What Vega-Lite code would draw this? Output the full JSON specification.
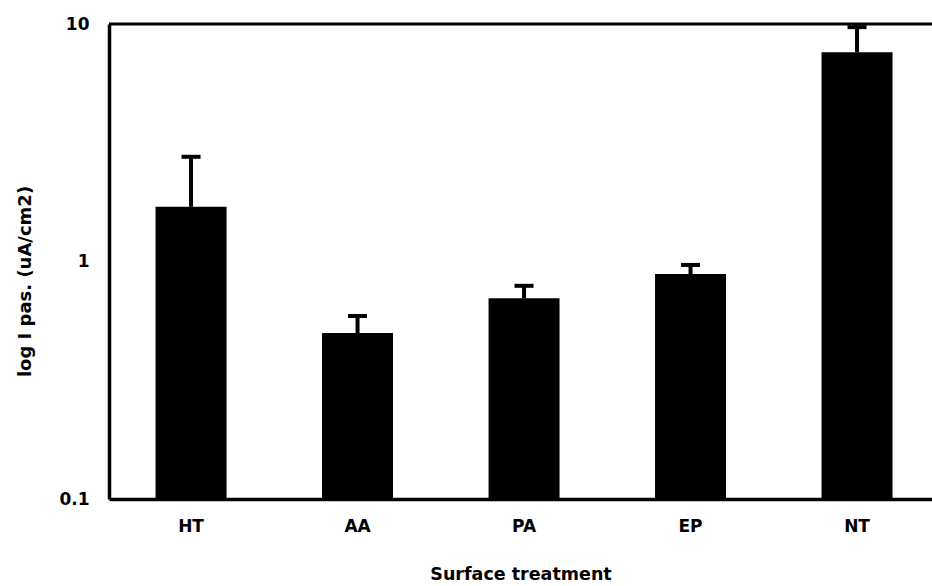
{
  "$schema": "https://vega.github.io/schema/vega-lite/v6.json",
  "width": 823,
  "height": 475,
  "autosize": "none",
  "padding": {"left": 109, "top": 24, "right": 0, "bottom": 87},
  "background": "white",
  "config": {"view": {"stroke": null}, "font": "DejaVu Sans"},
  "data": {"values": [
    {"treatment": "HT", "value": 1.70, "upper": 2.76},
    {"treatment": "AA", "value": 0.50, "upper": 0.59},
    {"treatment": "PA", "value": 0.70, "upper": 0.79},
    {"treatment": "EP", "value": 0.886, "upper": 0.967},
    {"treatment": "NT", "value": 7.6, "upper": 9.7}
  ]},
  "layer": [
    {
      "mark": {"type": "bar", "color": "black", "width": 71, "opacity": 1},
      "encoding": {
        "x": {
          "field": "treatment", "type": "nominal", "sort": null,
          "scale": {"paddingInner": 0.5, "paddingOuter": 0.2215, "align": 0.548},
          "axis": {
            "title": "Surface treatment", "labelAngle": 0, "ticks": false, "tickSize": 0,
            "labelPadding": 27, "labelBaseline": "middle",
            "domainColor": "black", "domainWidth": 3.5,
            "labelFont": "DejaVu Sans", "labelFontWeight": "bold", "labelFontSize": 17, "labelColor": "black",
            "titleFont": "DejaVu Sans", "titleFontWeight": "bold", "titleFontSize": 17.5, "titleColor": "black",
            "titleY": 75, "titleBaseline": "middle"
          }
        },
        "y": {
          "field": "value", "type": "quantitative",
          "scale": {"type": "log", "domain": [0.1, 10], "nice": false},
          "axis": {
            "title": "log I pas. (uA/cm2)", "values": [0.1, 1, 10], "format": "~g",
            "grid": false, "ticks": false, "tickSize": 0, "labelPadding": 20,
            "labelFlush": false,
            "domainColor": "black", "domainWidth": 3.5,
            "labelFont": "DejaVu Sans", "labelFontWeight": "bold", "labelFontSize": 17, "labelColor": "black",
            "titleFont": "DejaVu Sans", "titleFontWeight": "bold", "titleFontSize": 18, "titleColor": "black",
            "titleX": -84, "titleY": 257, "titleBaseline": "middle", "titleAlign": "center", "titleAngle": -90
          }
        },
        "y2": {"datum": 0.1}
      }
    },
    {
      "mark": {"type": "rule", "color": "black", "strokeWidth": 4, "opacity": 1},
      "encoding": {
        "x": {"field": "treatment", "type": "nominal", "sort": null},
        "y": {"field": "value", "type": "quantitative"},
        "y2": {"field": "upper"}
      }
    },
    {
      "mark": {"type": "tick", "color": "black", "size": 19, "thickness": 4, "opacity": 1},
      "encoding": {
        "x": {"field": "treatment", "type": "nominal", "sort": null},
        "y": {"field": "upper", "type": "quantitative"}
      }
    },
    {
      "data": {"values": [{"top": 10}]},
      "mark": {"type": "rule", "color": "black", "strokeWidth": 3},
      "encoding": {
        "y": {"field": "top", "type": "quantitative"}
      }
    }
  ]
}
